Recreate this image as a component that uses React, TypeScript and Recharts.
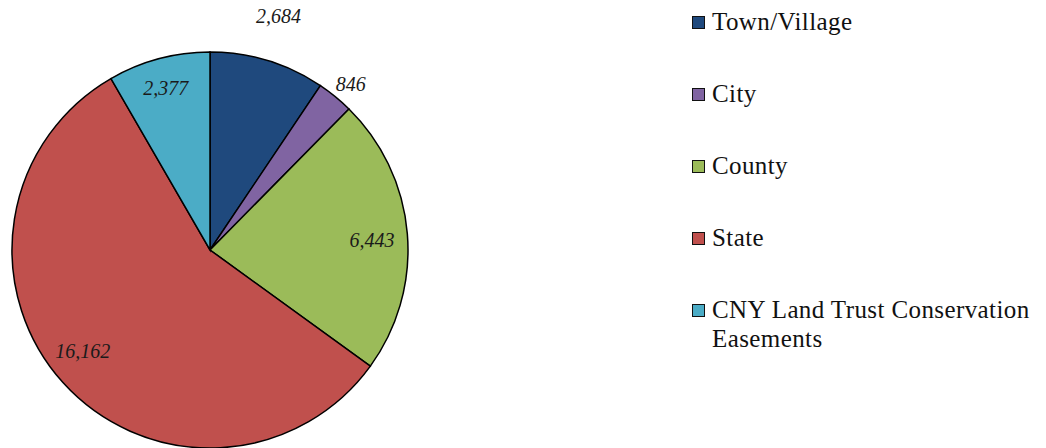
import React from "react";
import { PieChart, Pie, Cell, Legend } from "recharts";

const categories = ["Town/Village", "City", "County", "State", "CNY Land Trust Conservation Easements"];
const values = [2684, 846, 6443, 16162, 2377];
const colors = ["#1F497D", "#8064A2", "#9BBB59", "#C0504D", "#4BACC6"];
const labelRadiusFactors = [1.23, 1.1, 0.82, 0.82, 0.85];
const labelAngleShifts = [-0.6, 1.0, 1.3, 3.6, -0.2];

const data = categories.map((name, i) => ({ name, value: values[i] }));

const FONT = "'Liberation Serif', 'DejaVu Serif', serif";
const RAD = Math.PI / 180;

const renderLabel = (props: any) => {
  const { cx, cy, midAngle, outerRadius, value, index } = props;
  const r = outerRadius * labelRadiusFactors[index];
  const a = midAngle - labelAngleShifts[index];
  const x = cx + r * Math.cos(-a * RAD);
  const y = cy + r * Math.sin(-a * RAD);
  return (
    <text
      x={x}
      y={y}
      textAnchor="middle"
      dominantBaseline="central"
      fontFamily={FONT}
      fontStyle="italic"
      fontSize={20}
      fill="#1a1a1a"
    >
      {Number(value).toLocaleString("en-US")}
    </text>
  );
};

const renderLegend = () => (
  <div style={{ fontFamily: FONT, fontSize: 25, letterSpacing: 0.4, lineHeight: "29px", color: "#111" }}>
    {categories.map((c, i) => (
      <div key={c} style={{ display: "flex", alignItems: "flex-start", marginBottom: 43 }}>
        <div
          style={{
            width: 11,
            height: 11,
            marginTop: 9,
            marginRight: 7,
            background: colors[i],
            border: "1.5px solid #111",
            flexShrink: 0,
          }}
        />
        <div style={{ maxWidth: 334 }}>{c}</div>
      </div>
    ))}
  </div>
);

export default function App() {
  return (
    <div style={{ width: 1046, height: 448, marginTop: -8, marginLeft: -8, background: "#fff" }}>
      <PieChart width={1046} height={448} margin={{ top: 0, right: 0, bottom: 0, left: 0 }}>
        <Pie
          data={data}
          dataKey="value"
          nameKey="name"
          cx={210}
          cy={250}
          outerRadius={198}
          startAngle={90}
          endAngle={-270}
          stroke="#000"
          strokeWidth={1.5}
          label={renderLabel}
          labelLine={false}
          isAnimationActive={false}
        >
          {data.map((d, i) => (
            <Cell key={d.name} fill={colors[i]} />
          ))}
        </Pie>
        <Legend
          layout="vertical"
          verticalAlign="top"
          align="right"
          content={renderLegend}
          wrapperStyle={{ top: 7, left: 692, width: 354 }}
        />
      </PieChart>
    </div>
  );
}
